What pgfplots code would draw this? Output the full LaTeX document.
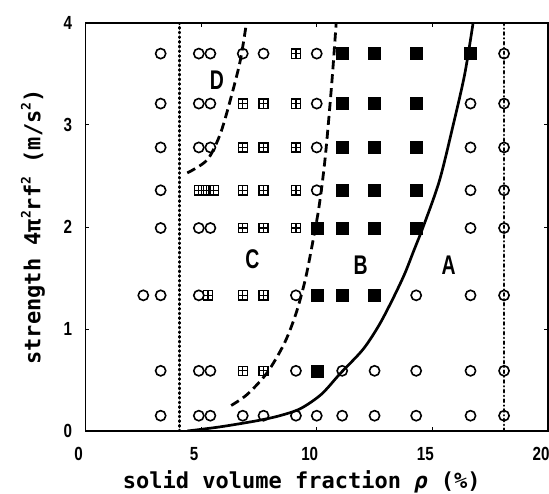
\documentclass[border=0pt]{standalone}
\usepackage{fontspec}
\usepackage{pgfplots}
\pgfplotsset{compat=1.18}
\setmainfont{Liberation Sans}
\newfontfamily\labfont{DejaVu Sans Mono}
\newfontfamily\tickfont[FakeStretch=0.8]{Liberation Sans}
\newfontfamily\regfont[FakeStretch=0.72]{Liberation Sans}
\newcommand\sq{\raisebox{0.45em}{\fontsize{13bp}{13bp}\selectfont 2}}

% square with a cross inside
\pgfdeclareplotmark{boxplus}{%
  \pgfpathrectangle{\pgfqpoint{-\pgfplotmarksize}{-\pgfplotmarksize}}{\pgfqpoint{2\pgfplotmarksize}{2\pgfplotmarksize}}%
  \pgfpathmoveto{\pgfqpoint{-\pgfplotmarksize}{0pt}}\pgfpathlineto{\pgfqpoint{\pgfplotmarksize}{0pt}}%
  \pgfpathmoveto{\pgfqpoint{0pt}{-\pgfplotmarksize}}\pgfpathlineto{\pgfqpoint{0pt}{\pgfplotmarksize}}%
  \pgfusepathqstroke}

\begin{document}
\begin{tikzpicture}
\begin{axis}[
  name=ax,
  scale only axis, width=462.5bp, height=408bp,
  xmin=0, xmax=20, ymin=0, ymax=4,
  xtick={0,5,10,15,20}, ytick={0,1,2,3,4},
  tick align=inside, major tick length=4bp,
  axis line style={line width=1.3pt},
  tick style={line width=1pt, black},
  /pgf/number format/assume math mode=true,
  ticklabel style={font=\tickfont\bfseries\fontsize{19bp}{19bp}\selectfont},
  xticklabel style={yshift=-13bp, xshift=-7bp},
  yticklabel style={xshift=-10bp},
  xlabel={solid volume fraction {\itshape ρ} (\%)},
  ylabel={strength 4π\sq rf\sq\ (m/s\sq)},
  label style={font=\labfont\bfseries\fontsize{22bp}{24bp}\selectfont},
  xlabel style={at={([xshift=-15bp,yshift=-51bp]axis description cs:0.5,0)}, anchor=center},
  ylabel style={at={([xshift=-52.5bp]axis description cs:0,0.5)}, anchor=center},
]
% boundaries
\addplot[draw=black, line width=3pt, line cap=round, dash pattern=on 0.9pt off 3.8pt] coordinates {(4.05,0) (4.05,4)};
\addplot[draw=black, line width=2.4pt, line cap=round, dash pattern=on 2.5pt off 3.5pt on 0.2pt off 3.5pt] coordinates {(18.1,0) (18.1,4)};
\addplot[black, line width=2.7pt, smooth] coordinates {
  (4.4,0) (5.8,0.04) (7.4,0.1) (8.4,0.15) (9.3,0.22) (10.2,0.36) (11.0,0.56) (12.0,0.8)
  (12.7,1.04) (13.3,1.3) (13.8,1.54) (14.2,1.77) (14.6,2.0) (15.3,2.45) (15.9,3.0) (16.4,3.5) (16.76,4.0)};
\addplot[black, line width=2.8pt, smooth, dash pattern=on 9pt off 5pt] coordinates {
  (6.3,0.25) (7.0,0.36) (7.85,0.57) (8.6,0.86) (9.1,1.15) (9.5,1.48) (9.8,1.82) (10.1,2.2)
  (10.37,2.69) (10.65,3.41) (10.84,4.0)};
\addplot[black, line width=2.8pt, smooth, dash pattern=on 9pt off 5pt] coordinates {
  (4.4,2.53) (5.27,2.66) (5.84,2.92) (6.34,3.31) (6.7,3.64) (6.96,4.0)};
% open circles
\addplot[only marks, mark=o, mark size=5.1pt, mark options={black, line width=1.6pt, fill=white}] coordinates {
  (3.25,3.70) (4.9,3.70) (5.4,3.70) (6.8,3.70) (7.7,3.70) (10.0,3.70) (18.1,3.70)
  (3.25,3.21) (4.9,3.21) (5.4,3.21) (10.0,3.21) (16.65,3.21) (18.1,3.21)
  (3.25,2.78) (4.9,2.78) (5.4,2.78) (10.0,2.78) (16.65,2.78) (18.1,2.78)
  (3.25,2.36) (10.0,2.36) (16.65,2.36) (18.1,2.36)
  (3.25,1.99) (4.9,1.99) (5.4,1.99) (16.65,1.99) (18.1,1.99)
  (2.5,1.33) (3.25,1.33) (4.9,1.33) (9.1,1.33) (14.3,1.33) (16.65,1.33) (18.1,1.33)
  (3.25,0.59) (4.9,0.59) (5.4,0.59) (9.1,0.59) (11.1,0.59) (12.5,0.59) (14.3,0.59) (16.65,0.59) (18.1,0.59)
  (3.25,0.15) (4.9,0.15) (5.4,0.15) (6.8,0.15) (7.7,0.15) (9.1,0.15) (10.0,0.15) (11.1,0.15)
  (12.5,0.15) (14.3,0.15) (16.65,0.15) (18.1,0.15)};
% crossed squares
\addplot[only marks, mark=boxplus, mark size=4.6pt, mark options={black, line width=1.3pt}] coordinates {
  (9.1,3.70)
  (6.8,3.21) (7.7,3.21) (9.1,3.21)
  (6.8,2.78) (7.7,2.78) (9.1,2.78)
  (4.9,2.36) (5.22,2.36) (5.54,2.36) (6.8,2.36) (7.7,2.36) (9.1,2.36)
  (6.8,1.99) (7.7,1.99) (9.1,1.99)
  (5.3,1.33) (6.8,1.33) (7.7,1.33)
  (6.8,0.59) (7.7,0.59)};
% filled squares
\addplot[only marks, mark=square*, mark size=6pt, mark options={black}] coordinates {
  (11.1,3.70) (12.5,3.70) (14.3,3.70) (16.65,3.70)
  (11.1,3.21) (12.5,3.21) (14.3,3.21)
  (11.1,2.78) (12.5,2.78) (14.3,2.78)
  (11.1,2.36) (12.5,2.36) (14.3,2.36)
  (10.0,1.99) (11.1,1.99) (12.5,1.99) (14.3,1.99)
  (10.0,1.33) (11.1,1.33) (12.5,1.33)
  (10.0,0.59)};
% region labels
\node[font=\regfont\bfseries\fontsize{27bp}{27bp}\selectfont] at (axis cs:5.68,3.44) {D};
\node[font=\regfont\bfseries\fontsize{27bp}{27bp}\selectfont] at (axis cs:7.22,1.68) {C};
\node[font=\regfont\bfseries\fontsize{27bp}{27bp}\selectfont] at (axis cs:11.9,1.63) {B};
\node[font=\regfont\bfseries\fontsize{27bp}{27bp}\selectfont] at (axis cs:15.7,1.63) {A};
\end{axis}
\pgfresetboundingbox
\path ([xshift=-85.5bp,yshift=-63bp]ax.south west) rectangle ([xshift=1bp,yshift=23bp]ax.north east);
\end{tikzpicture}
\end{document}
